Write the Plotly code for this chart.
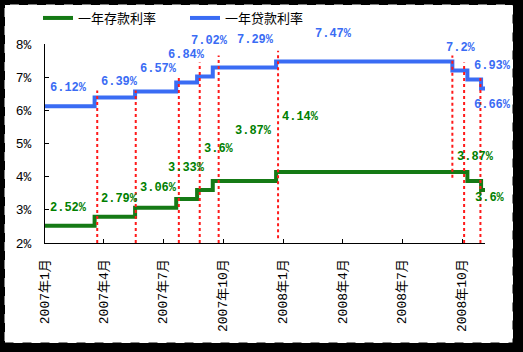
import plotly.graph_objects as go
import pandas as pd

# ---- data ----
step_dates = ["2007-01-01", "2007-03-18", "2007-05-19", "2007-07-21", "2007-08-22",
              "2007-09-15", "2007-12-21", "2008-09-16", "2008-10-09", "2008-10-30", "2008-11-05"]
deposit_rate = [2.52, 2.79, 3.06, 3.33, 3.60, 3.87, 4.14, 4.14, 3.87, 3.60, 3.60]
loan_rate = [6.12, 6.39, 6.57, 6.84, 7.02, 7.29, 7.47, 7.20, 6.93, 6.66, 6.66]

tick_vals = ["2007-01-01", "2007-04-01", "2007-07-01", "2007-10-01",
             "2008-01-01", "2008-04-01", "2008-07-01", "2008-10-01"]
tick_text = ["2007年1月", "2007年4月", "2007年7月", "2007年10月",
             "2008年1月", "2008年4月", "2008年7月", "2008年10月"]

x_range = ["2007-01-01", "2008-11-05"]
y_range = [2, 8]

# red dotted marker lines: date, bottom value, top value
marker_dates = ["2007-03-22", "2007-05-20", "2007-07-25", "2007-08-26", "2007-09-24",
                "2007-12-24", "2008-09-16", "2008-10-04", "2008-10-29"]
marker_bottom = [2.0, 2.0, 2.0, 2.0, 2.0, 2.14, 3.97, 2.0, 2.0]
marker_top = [6.6, 6.6, 7.0, 7.44, 7.65, 7.8, 7.65, 7.44, 7.0]

# value labels
loan_labels = [6.12, 6.39, 6.57, 6.84, 7.02, 7.29, 7.47, 7.2, 6.93, 6.66]
loan_label_dates = ["2007-02-06", "2007-04-25", "2007-06-24", "2007-08-05", "2007-09-10",
                    "2007-11-19", "2008-03-18", "2008-09-29", "2008-11-17", "2008-11-17"]
loan_label_y = [6.66, 6.84, 7.26, 7.68, 8.08, 8.11, 8.29, 7.89, 7.35, 6.15]

dep_labels = [2.52, 2.79, 3.06, 3.33, 3.6, 3.87, 4.14, 3.87, 3.6]
dep_label_dates = ["2007-02-06", "2007-04-25", "2007-06-24", "2007-08-05", "2007-09-24",
                   "2007-11-16", "2008-01-27", "2008-10-21", "2008-11-12"]
dep_label_y = [3.07, 3.34, 3.67, 4.25, 4.82, 5.39, 5.81, 4.58, 3.37]

GREEN_LINE = "#157a15"
GREEN_TXT = "#008000"
BLUE = "#3a6cf4"
CJK = "Noto Sans CJK SC"
MONO = "Liberation Mono"

# axis helpers to place labels that sit outside the axis range
t0 = pd.Timestamp(x_range[0])
t1 = pd.Timestamp(x_range[1])
def date_to_paper(d):
    return (pd.Timestamp(d) - t0) / (t1 - t0)
def val_to_paper(v):
    return (v - y_range[0]) / (y_range[1] - y_range[0])

fig = go.Figure()
fig.add_trace(go.Scatter(x=step_dates, y=deposit_rate, mode="lines", line_shape="hv",
                         name="一年存款利率", line=dict(color=GREEN_LINE, width=4),
                         cliponaxis=False))
fig.add_trace(go.Scatter(x=step_dates, y=loan_rate, mode="lines", line_shape="hv",
                         name="一年贷款利率", line=dict(color=BLUE, width=4),
                         cliponaxis=False))

shapes = []
L, R, T, B = 45, 38, 44, 109
W, H = 523, 352
pw, ph = W - L - R, H - T - B
def px(x):
    return (x - L) / pw
def py(y):
    return (H - B - y) / ph
shapes.append(dict(type="rect", xref="paper", yref="paper", layer="below",
                   x0=px(4.5), x1=px(513), y0=py(343), y1=py(4.5),
                   fillcolor="white", line=dict(color="black", width=1, dash="dash")))
for d, b, t in zip(marker_dates, marker_bottom, marker_top):
    shapes.append(dict(type="line", xref="x", yref="y", x0=d, x1=d, y0=b, y1=t,
                       line=dict(color="#ff1a1a", width=2, dash="dot"), layer="above"))

annotations = []
for v, d, y in zip(loan_labels, loan_label_dates, loan_label_y):
    annotations.append(dict(x=date_to_paper(d), y=val_to_paper(y), xref="paper", yref="paper",
                            xanchor="center", yanchor="middle",
                            text=f"<b>{v:g}%</b>", showarrow=False,
                            font=dict(family=MONO, size=12, color=BLUE)))
for v, d, y in zip(dep_labels, dep_label_dates, dep_label_y):
    annotations.append(dict(x=date_to_paper(d), y=val_to_paper(y), xref="paper", yref="paper",
                            xanchor="center", yanchor="middle",
                            text=f"<b>{v:g}%</b>", showarrow=False,
                            font=dict(family=MONO, size=12, color=GREEN_TXT)))

fig.update_layout(
    width=W, height=H,
    margin=dict(l=L, r=R, t=T, b=B, pad=0, autoexpand=False),
    paper_bgcolor="black",
    plot_bgcolor="white",
    shapes=shapes,
    annotations=annotations,
    showlegend=True,
    legend=dict(orientation="h", x=px(38), y=py(18), xanchor="left", yanchor="middle",
                bgcolor="rgba(0,0,0,0)", font=dict(family=CJK, size=13, color="black"),
                entrywidth=102, itemwidth=30, tracegroupgap=0),
    xaxis=dict(type="date", range=x_range,
               tickvals=tick_vals, ticktext=tick_text, tickangle=-90,
               ticks="inside", ticklen=4, tickcolor="black",
               showline=True, linecolor="black", linewidth=1,
               showgrid=False, zeroline=False, ticklabelstandoff=10,
               tickfont=dict(family=MONO + ", " + CJK, size=13, color="black")),
    yaxis=dict(range=y_range, dtick=1, ticksuffix="%",
               ticks="inside", ticklen=4, tickcolor="black",
               showline=True, linecolor="black", linewidth=1,
               showgrid=False, zeroline=False, ticklabelstandoff=10,
               tickfont=dict(family=MONO, size=13, color="black")),
)

fig.write_html("out.html")
